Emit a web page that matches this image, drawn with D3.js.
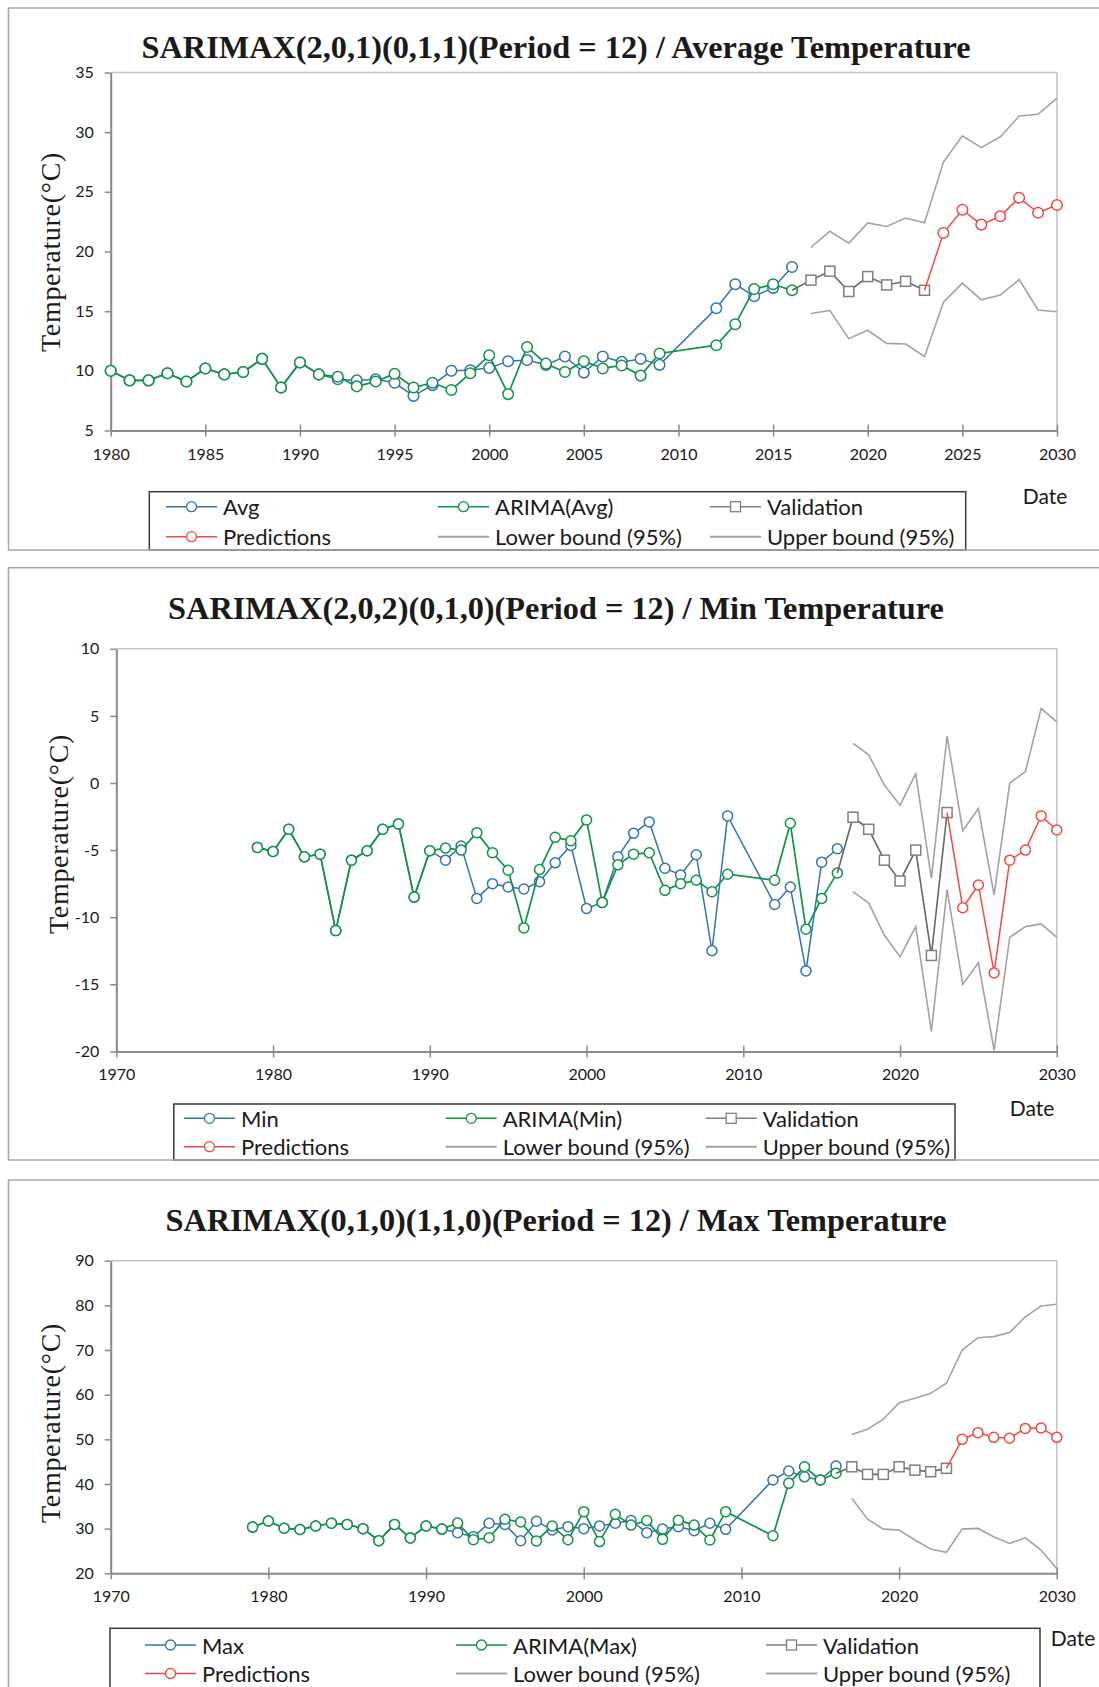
<!DOCTYPE html>
<html>
<head>
<meta charset="utf-8">
<script src="https://cdn.jsdelivr.net/npm/d3@7"></script>
<style>
  body { margin: 0; background: #fff; }
  svg text { font-family: Lato, "Open Sans", sans-serif; fill: #1a1a1a; }
</style>
</head>
<body>
<svg id="chart" width="1099" height="1687"></svg>
<script>
// ---- categories (years) ----
var avgYears = d3.range(1980, 2010).concat([2012, 2013, 2014, 2015, 2016]);
var minMaxYears = d3.range(1979, 2010).concat([2012, 2013, 2014, 2015, 2016]);
var valYears = d3.range(2017, 2024);
var predYears = d3.range(2024, 2031);
var boundYears = d3.range(2017, 2031);

// ---- average temperature ----
var avgActual = [10.0, 9.2, 9.2, 9.8, 9.1, 10.2, 9.7, 9.9, 11.0, 8.6,
  10.7, 9.7, 9.3, 9.2, 9.3, 9.0, 7.9, 8.8, 10.0, 10.05,
  10.25, 10.8, 10.9, 10.5, 11.2, 9.85, 11.2, 10.75, 11.0, 10.5,
  15.25, 17.25, 16.25, 16.95, 18.7];
var avgArima = [10.0, 9.2, 9.2, 9.8, 9.1, 10.2, 9.7, 9.9, 11.0, 8.6,
  10.7, 9.7, 9.5, 8.7, 9.1, 9.75, 8.6, 9.0, 8.4, 9.8,
  11.3, 8.05, 12.0, 10.6, 9.9, 10.8, 10.2, 10.45, 9.6, 11.45,
  12.15, 13.9, 16.85, 17.25, 16.75];
var avgValidation = [17.6, 18.35, 16.65, 17.9, 17.2, 17.5, 16.75];
var avgPred = [21.55, 23.5, 22.25, 22.95, 24.5, 23.25, 23.9];
var avgUpper = [20.35, 21.7, 20.7, 22.4, 22.1, 22.8, 22.4, 27.5, 29.7, 28.7, 29.6, 31.35, 31.5, 32.85];
var avgLower = [14.8, 15.05, 12.7, 13.4, 12.3, 12.25, 11.2, 15.75, 17.35, 15.95, 16.35, 17.65, 15.1, 14.95];

// ---- min temperature ----
var minActual = [-4.8,
  -5.1, -3.45, -5.5, -5.3, -11.0, -5.75, -5.05, -3.45, -3.05, -8.5,
  -5.05, -5.75, -4.7, -8.6, -7.5, -7.75, -7.9, -7.35, -5.95, -4.65,
  -9.35, -8.9, -5.5, -3.75, -2.9, -6.35, -6.85, -5.35, -12.5, -2.45,
  -9.05, -7.75, -14.0, -5.9, -4.9];
var minArima = [-4.8,
  -5.1, -3.45, -5.5, -5.3, -11.0, -5.75, -5.05, -3.45, -3.05, -8.5,
  -5.05, -4.85, -5.0, -3.7, -5.2, -6.5, -10.8, -6.45, -4.05, -4.3,
  -2.75, -8.9, -6.1, -5.3, -5.2, -8.0, -7.5, -7.25, -8.1, -6.8,
  -7.25, -3.0, -10.9, -8.6, -6.7];
var minValidation = [-2.55, -3.45, -5.75, -7.3, -5.0, -12.85, -2.2];
var minPred = [-9.3, -7.6, -14.15, -5.75, -5.0, -2.45, -3.5];
var minUpper = [2.95, 2.1, -0.15, -1.65, 0.7, -7.1, 3.5, -3.55, -1.9, -8.35, 0.0, 0.85, 5.55, 4.55];
var minLower = [-8.1, -8.95, -11.35, -12.95, -10.7, -18.5, -7.95, -15.0, -13.4, -19.9, -11.5, -10.7, -10.5, -11.5];

// ---- max temperature ----
var maxActual = [30.35,
  31.7, 30.1, 29.8, 30.6, 31.2, 30.95, 30.0, 27.3, 30.95, 27.9,
  30.6, 29.9, 29.1, 28.2, 31.2, 30.95, 27.3, 31.65, 29.7, 30.45,
  30.0, 30.6, 31.2, 31.8, 29.1, 29.9, 30.45, 29.55, 31.2, 29.85,
  40.9, 42.9, 41.6, 40.9, 44.0];
var maxArima = [30.35,
  31.7, 30.1, 29.8, 30.6, 31.2, 30.95, 30.0, 27.3, 30.95, 27.9,
  30.6, 29.9, 31.25, 27.5, 27.95, 32.1, 31.5, 27.25, 30.6, 27.5,
  33.8, 27.1, 33.2, 30.8, 31.8, 27.6, 31.9, 30.8, 27.45, 33.8,
  28.4, 40.15, 43.85, 40.9, 42.4];
var maxValidation = [43.85, 42.15, 42.15, 43.85, 43.1, 42.75, 43.5];
var maxPred = [50.0, 51.5, 50.45, 50.25, 52.45, 52.55, 50.45];
var maxUpper = [51.1, 52.25, 54.5, 58.2, 59.2, 60.3, 62.55, 70.0, 72.75, 73.0, 73.9, 77.45, 79.85, 80.25];
var maxLower = [36.8, 32.1, 29.9, 29.7, 27.45, 25.45, 24.7, 29.9, 30.05, 28.2, 26.7, 27.95, 25.2, 21.0];

// ---- tick labels ----
var avgXTicks = d3.range(1980, 2031, 5);
var decadeTicks = [1970, 1980, 1990, 2000, 2010, 2020, 2030];
var avgYTicks = [5, 10, 15, 20, 25, 30, 35];
var minYTicks = [-20, -15, -10, -5, 0, 5, 10];
var maxYTicks = [20, 30, 40, 50, 60, 70, 80, 90];

var blue = "#3374ad", green = "#0f9446", red = "#ef4a42", grey = "#a3a3a3", valLine = "#5e6b63", valMark = "#7f7f7f";

var svg = d3.select("#chart");

function zip(xs, ys) {
  return xs.map(function (d, i) { return [d, ys[i]]; });
}

var panels = [
  {
    title: "SARIMAX(2,0,1)(0,1,1)(Period = 12) / Average Temperature", name: "Avg",
    years: avgYears, actual: avgActual, arima: avgArima, validation: avgValidation, pred: avgPred,
    upper: avgUpper, lower: avgLower, xTicks: avgXTicks, yTicks: avgYTicks,
    xDomain: [1980, 2030], yDomain: [5, 35],
    left: 110.7, right: 1057, top: 72.5, bottom: 430.5, r: 5.3,
    frame: [8, 550], titleY: 47, yLabel: [50, 252], tickY: 18,
    legendBox: [149.3, 491.7, 965.7], legendCols: [166, 438, 710], legendRows: [506.7, 536.7],
    dateXY: [1045, 495]
  },
  {
    title: "SARIMAX(2,0,2)(0,1,0)(Period = 12) / Min Temperature", name: "Min",
    years: minMaxYears, actual: minActual, arima: minArima, validation: minValidation, pred: minPred,
    upper: minUpper, lower: minLower, xTicks: decadeTicks, yTicks: minYTicks,
    xDomain: [1970, 2030], yDomain: [-20, 10],
    left: 116.3, right: 1056.8, top: 648.8, bottom: 1051.4, r: 5,
    frame: [567.7, 1160], titleY: 608, yLabel: [58, 834], tickY: 17,
    legendBox: [173.8, 1104, 955], legendCols: [184, 445.7, 705.7], legendRows: [1118.3, 1146.7],
    dateXY: [1032, 1107]
  },
  {
    title: "SARIMAX(0,1,0)(1,1,0)(Period = 12) / Max Temperature", name: "Max",
    years: minMaxYears, actual: maxActual, arima: maxArima, validation: maxValidation, pred: maxPred,
    upper: maxUpper, lower: maxLower, xTicks: decadeTicks, yTicks: maxYTicks,
    xDomain: [1970, 2030], yDomain: [20, 90],
    left: 110.7, right: 1056.8, top: 1260.7, bottom: 1573.3, r: 5,
    frame: [1180, 1720], titleY: 1219.6, yLabel: [50, 1423], tickY: 17,
    legendBox: [110, 1628.3, 1040], legendCols: [145, 456, 766], legendRows: [1645, 1673.5],
    dateXY: [1073, 1637]
  }
];

function drawPanel(p) {
  var x = d3.scaleLinear().domain(p.xDomain).range([p.left, p.right]);
  var y = d3.scaleLinear().domain(p.yDomain).range([p.bottom, p.top]);
  var g = svg.append("g");

  // legend box (bottom edge sits on the frame)
  g.append("rect")
    .attr("x", p.legendBox[0]).attr("y", p.legendBox[1])
    .attr("width", p.legendBox[2] - p.legendBox[0])
    .attr("height", p.frame[1] - p.legendBox[1])
    .attr("fill", "#fff").attr("stroke", "#3a3a3a").attr("stroke-width", 1.5);

  // outer frame
  g.append("rect")
    .attr("x", 8.5).attr("y", p.frame[0])
    .attr("width", 1100).attr("height", p.frame[1] - p.frame[0])
    .attr("fill", "none").attr("stroke", "#a8a8a8").attr("stroke-width", 1.5);

  // title
  g.append("text")
    .attr("x", 556).attr("y", p.titleY)
    .attr("text-anchor", "middle").attr("dominant-baseline", "central")
    .style("font-family", "'Liberation Serif', 'Times New Roman', serif")
    .style("font-weight", "bold").style("font-size", "32.3px")
    .text(p.title);

  // plot border (top, right)
  g.append("path")
    .attr("d", "M" + p.left + "," + p.top + "H" + p.right + "V" + p.bottom)
    .attr("fill", "none").attr("stroke", "#c4c4c4").attr("stroke-width", 1.5);

  // axes
  var yAxis = g.append("g")
    .attr("transform", "translate(" + p.left + ",0)")
    .call(d3.axisLeft(y).tickValues(p.yTicks).tickFormat(function (d) { return String(d); })
      .tickSize(6).tickSizeOuter(0).tickPadding(11));
  var xAxis = g.append("g")
    .attr("transform", "translate(0," + p.bottom + ")")
    .call(d3.axisBottom(x).tickValues(p.xTicks).tickFormat(d3.format("d")).tickSize(6).tickSizeOuter(0));
  xAxis.selectAll(".tick line").attr("y1", -6);
  xAxis.selectAll(".tick text").attr("y", p.tickY);
  [xAxis, yAxis].forEach(function (a) {
    a.select(".domain").attr("stroke", "#8a8a8a").attr("stroke-width", 2);
    a.selectAll(".tick line").attr("stroke", "#8a8a8a").attr("stroke-width", 1.5);
    a.selectAll(".tick text").style("font-size", "16px").attr("fill", "#1a1a1a");
  });

  // y label
  g.append("text")
    .attr("transform", "translate(" + p.yLabel[0] + "," + p.yLabel[1] + ") rotate(-90)")
    .attr("text-anchor", "middle").attr("dominant-baseline", "central")
    .style("font-family", "'Liberation Serif', 'Times New Roman', serif")
    .style("font-size", "28px").style("letter-spacing", "0.7px")
    .text("Temperature(°C)");

  // Date label
  g.append("text")
    .attr("x", p.dateXY[0]).attr("y", p.dateXY[1])
    .attr("text-anchor", "middle").attr("dominant-baseline", "central")
    .style("font-size", "21px").text("Date");

  var line = d3.line().x(function (d) { return x(d[0]); }).y(function (d) { return y(d[1]); });

  var actual = zip(p.years, p.actual);
  var arima = zip(p.years, p.arima);
  var val = zip(valYears, p.validation);
  var pred = zip(predYears, p.pred);

  // confidence bounds
  [p.upper, p.lower].forEach(function (b) {
    g.append("path").datum(zip(boundYears, b))
      .attr("d", line).attr("fill", "none").attr("stroke", grey).attr("stroke-width", 1.6);
  });

  function series(data, color, width, lead) {
    var pts = lead ? [lead].concat(data) : data;
    g.append("path").datum(pts)
      .attr("d", line).attr("fill", "none").attr("stroke", color).attr("stroke-width", width);
  }
  function circles(data, color) {
    g.selectAll(null).data(data).enter().append("circle")
      .attr("cx", function (d) { return x(d[0]); })
      .attr("cy", function (d) { return y(d[1]); })
      .attr("r", p.r).attr("fill", "#fff").attr("stroke", color).attr("stroke-width", 1.5);
  }

  series(actual, blue, 1.5);
  circles(actual, blue);
  series(arima, green, 1.7);
  circles(arima, green);
  series(val, valLine, 1.6, arima[arima.length - 1]);
  g.selectAll(null).data(val).enter().append("rect")
    .attr("x", function (d) { return x(d[0]) - 5; })
    .attr("y", function (d) { return y(d[1]) - 5; })
    .attr("width", 10).attr("height", 10)
    .attr("fill", "#fff").attr("stroke", valMark).attr("stroke-width", 1.5);
  series(pred, red, 1.5, val[val.length - 1]);
  circles(pred, red);

  // legend entries
  var entries = [
    { label: p.name, color: blue, mark: "circle", col: 0, row: 0 },
    { label: "ARIMA(" + p.name + ")", color: green, mark: "circle", col: 1, row: 0 },
    { label: "Validation", color: valMark, mark: "square", col: 2, row: 0 },
    { label: "Predictions", color: red, mark: "circle", col: 0, row: 1 },
    { label: "Lower bound (95%)", color: grey, mark: "none", col: 1, row: 1 },
    { label: "Upper bound (95%)", color: grey, mark: "none", col: 2, row: 1 }
  ];
  entries.forEach(function (e) {
    var lx = p.legendCols[e.col], ly = p.legendRows[e.row];
    g.append("line").attr("x1", lx).attr("x2", lx + 51).attr("y1", ly).attr("y2", ly)
      .attr("stroke", e.color).attr("stroke-width", e.mark === "none" ? 2 : 1.5);
    if (e.mark === "circle") {
      g.append("circle").attr("cx", lx + 25.5).attr("cy", ly).attr("r", 5)
        .attr("fill", "#fff").attr("stroke", e.color).attr("stroke-width", 1.3);
    } else if (e.mark === "square") {
      g.append("rect").attr("x", lx + 20.5).attr("y", ly - 5).attr("width", 10).attr("height", 10)
        .attr("fill", "#fff").attr("stroke", e.color).attr("stroke-width", 1.3);
    }
    g.append("text").attr("x", lx + 57).attr("y", ly)
      .attr("dominant-baseline", "central").style("font-size", "22px").text(e.label);
  });
}

panels.forEach(drawPanel);
</script>
</body>
</html>
